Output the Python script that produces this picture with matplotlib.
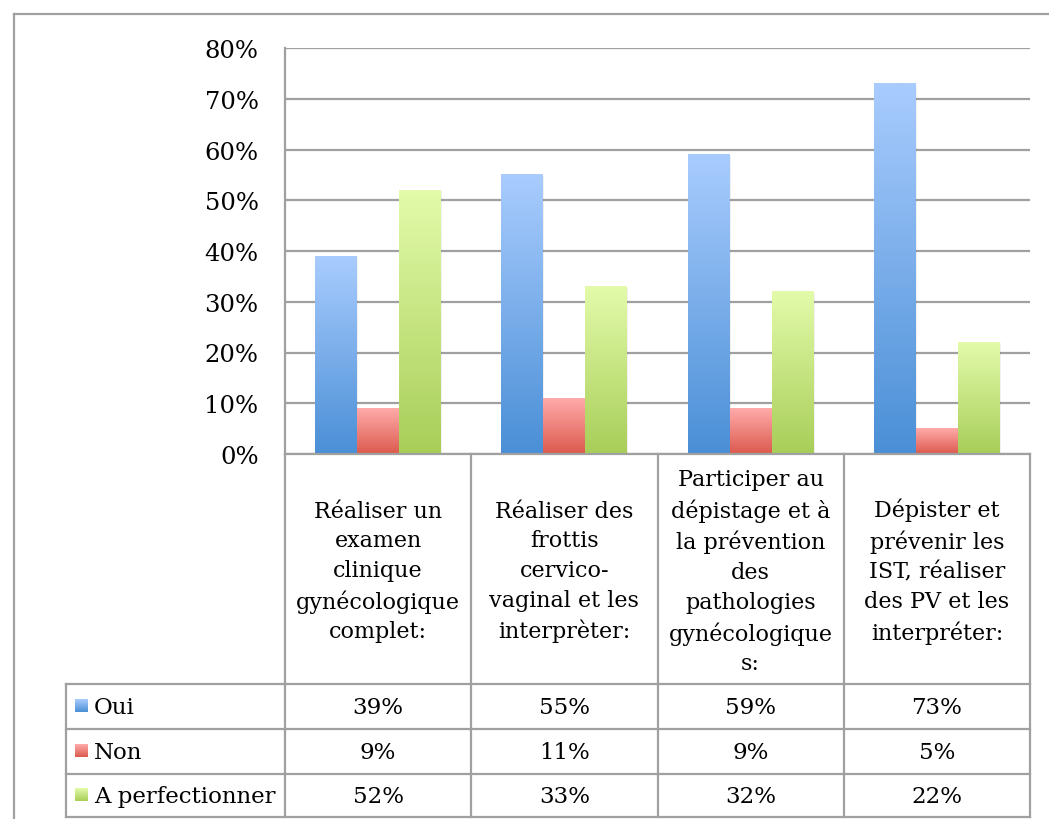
import numpy as np
import matplotlib
matplotlib.use("Agg")
import matplotlib.pyplot as plt
from matplotlib.transforms import blended_transform_factory
from matplotlib.colors import LinearSegmentedColormap

categories = [
    "Réaliser un\nexamen\nclinique\ngynécologique\ncomplet:",
    "Réaliser des\nfrottis\ncervico-\nvaginal et les\ninterprèter:",
    "Participer au\ndépistage et à\nla prévention\ndes\npathologies\ngynécologique\ns:",
    "Dépister et\nprévenir les\nIST, réaliser\ndes PV et les\ninterpréter:",
]
series_names = ["Oui", "Non", "A perfectionner"]
oui = [39, 55, 59, 73]
non = [9, 11, 9, 5]
a_perf = [52, 33, 32, 22]
series_values = [oui, non, a_perf]
ytick_labels = ["0%", "10%", "20%", "30%", "40%", "50%", "60%", "70%", "80%"]

grad_colors = [("#A9CCFE", "#4A8FD6"), ("#FFABAA", "#DC5A4E"), ("#E3FBAA", "#A8CE58")]

plt.rcParams['font.family'] = ['DejaVu Serif']
W, H = 1049, 820
fig = plt.figure(figsize=(W / 100, H / 100), dpi=100)

# overlay pixel-space axes for frame / table
tab = fig.add_axes([0, 0, 1, 1])
tab.set_xlim(0, W)
tab.set_ylim(H, 0)
tab.axis("off")
tab.set_zorder(0)

def fx(px):
    return px / W

def fy(py):
    return 1 - py / H

ax = fig.add_axes([fx(285), fy(455), (1030 - 285) / W, (455 - 49) / H])
ax.set_zorder(1)
ax.patch.set_alpha(0)
n = len(categories)
ax.set_xlim(-0.5, n - 0.5)
ax.set_ylim(0, 0.8)

gc = "#A0A0A0"
ax.set_yticks(np.arange(len(ytick_labels)) / 10)
ax.set_yticklabels(ytick_labels, fontsize=17.5)
ax.tick_params(axis="y", length=0, pad=19)
ax.set_xticks([])
ax.grid(axis="y", color=gc, lw=1.6)
ax.set_axisbelow(True)
for s in ["top", "right"]:
    ax.spines[s].set_visible(False)
ax.spines["left"].set_color(gc)
ax.spines["bottom"].set_color(gc)
ax.spines["left"].set_linewidth(1.6)
ax.spines["bottom"].set_linewidth(1.6)

bw = 0.2255
x = np.arange(n)
grad = np.linspace(0, 1, 256).reshape(-1, 1)
for k, vals in enumerate(series_values):
    v = np.array(vals) / 100
    cmap = LinearSegmentedColormap.from_list("g%d" % k, [grad_colors[k][1], grad_colors[k][0]])
    bars = ax.bar(x + (k - 1) * bw, v, bw, color=grad_colors[k][1], zorder=2, lw=0)
    for b in bars:
        x0, w, h = b.get_x(), b.get_width(), b.get_height()
        # soft shadow
        ax.add_patch(plt.Rectangle((x0 + 0.006, 0), w, h - 0.002, color="#000000", alpha=0.06, lw=0, zorder=1.5))
        ax.imshow(grad, cmap=cmap, extent=[x0, x0 + w, 0, h], origin="lower",
                  aspect="auto", zorder=2.1, interpolation="bilinear")
ax.set_xlim(-0.5, n - 0.5)
ax.set_ylim(0, 0.8)

# outer frame
lc = "#A0A0A0"
tab.plot([14, 14], [15, H], color=lc, lw=1.6)
tab.plot([14, W], [15, 15], color=lc, lw=1.6)

# table
bt = blended_transform_factory(ax.transData, tab.transData)
row_y = [455, 685, 730, 775, 818]
for xb in np.arange(n + 1) - 0.5:
    ax.plot([xb, xb], [455, 818], color=lc, lw=1.6, transform=bt, clip_on=False)
for yy in row_y[1:]:
    tab.plot([66, 1030], [yy, yy], color=lc, lw=1.6)
tab.plot([66, 66], [685, 818], color=lc, lw=1.6)

fs = 16
for i, c in enumerate(categories):
    ax.text(i, 572, c, transform=bt, ha="center", va="center", fontsize=fs,
            linespacing=1.45, clip_on=False)

for r, (name, vals) in enumerate(zip(series_names, series_values)):
    yc = (row_y[r + 1] + row_y[r + 2]) / 2
    for i, v in enumerate(vals):
        ax.text(i, yc + 1, "%d%%" % v, transform=bt, ha="center", va="center",
                fontsize=16.5, clip_on=False)
    cmap = LinearSegmentedColormap.from_list("k%d" % r, [grad_colors[r][1], grad_colors[r][0]])
    tab.imshow(grad, cmap=cmap, extent=[75, 88, yc + 6, yc - 7], origin="lower",
               aspect="auto", interpolation="bilinear", zorder=3)
    tab.text(94, yc + 1, name, ha="left", va="center", fontsize=16.5)
tab.set_xlim(0, W)
tab.set_ylim(H, 0)

fig.savefig("out.png", dpi=100)
